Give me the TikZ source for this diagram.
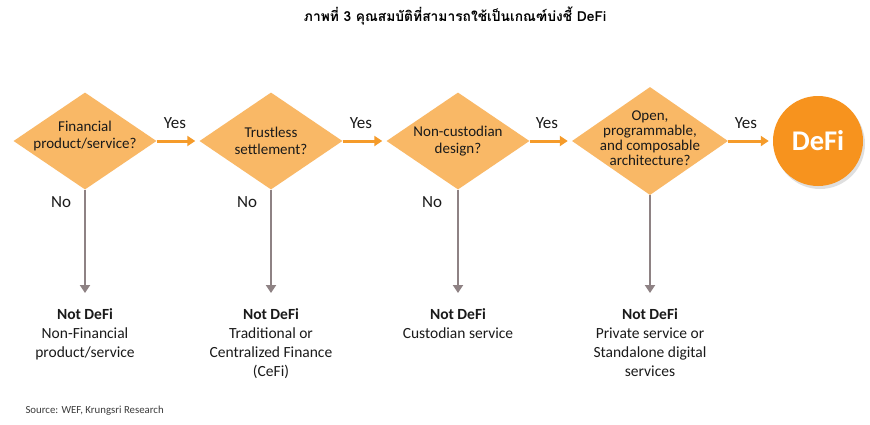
\documentclass[tikz,border=0pt]{standalone}
\usepackage{fontspec}
\setmainfont{Carlito}
\newfontfamily\thaifont[Script=Thai]{Loma}
\usetikzlibrary{shapes.geometric,arrows.meta,shadows}
\definecolor{dfill}{HTML}{F9B866}
\definecolor{orarrow}{HTML}{F59B2A}
\definecolor{defic}{HTML}{F7931E}
\definecolor{grayarr}{HTML}{8E8284}
\definecolor{txt}{HTML}{1A1A1A}
\tikzset{
  dia/.style={diamond,fill=dfill,draw=none,inner sep=0pt,minimum width=143pt,minimum height=97pt},
  qtext/.style={align=center,font=\fontsize{15}{17}\selectfont,text=txt},
  yesarrow/.style={draw=orarrow,line width=3pt,-{Triangle[length=8pt,width=10pt]}},
  noarrow/.style={draw=grayarr,line width=2.6pt,-{Triangle[length=8pt,width=10pt]}},
  lbl/.style={font=\fontsize{17}{18}\selectfont,text=txt},
  result/.style={align=center,anchor=north,font=\fontsize{15.5}{19}\selectfont,text=txt},
}
\begin{document}
\begin{tikzpicture}[x=1pt,y=-1pt]
\useasboundingbox[fill=white] (0,0) rectangle (870,424);
\node[font=\thaifont\bfseries\fontsize{13.8}{15}\selectfont] (title) at (455,16) {ภาพที่ 3 คุณสมบัติที่สามารถใช้เป็นเกณฑ์บ่งชี้ DeFi};

\node[dia] (d1) at (85,141) {};
\node[dia] (d2) at (271,141) {};
\node[dia] (d3) at (458,141) {};
\node[dia,minimum width=156pt,minimum height=108pt] (d4) at (650,141) {};
\node[circle,fill=defic,minimum size=90pt,inner sep=0pt,drop shadow={shadow xshift=2pt,shadow yshift=-3pt,opacity=0.25}] (defi) at (818,141) {};
\node[font=\bfseries\fontsize{28.5}{29}\selectfont,text=white] (defit) at (defi.center) {DeFi};

\node[qtext] (t1) at (85,136) {Financial\\product/service?};
\node[qtext] (t2) at (271,141) {Trustless\\settlement?};
\node[qtext] (t3) at (458,141) {Non-custodian\\design?};
\node[qtext,font=\fontsize{15}{15}\selectfont] (t4) at (650,138) {Open,\\programmable,\\and composable\\architecture?};

\coordinate (e2) at ([xshift=-4pt]d2.west);
\coordinate (e3) at ([xshift=-4pt]d3.west);
\coordinate (e4) at ([xshift=-4pt]d4.west);
\coordinate (e5) at ([xshift=-4pt]defi.west);
\draw[yesarrow] (d1.east) -- (e2);
\draw[yesarrow] (d2.east) -- (e3);
\draw[yesarrow] (d3.east) -- (e4);
\draw[yesarrow] (d4.east) -- (e5);
\node[lbl] (y1) at (175,123) {Yes};
\node[lbl] (y2) at (361,123) {Yes};
\node[lbl] (y3) at (547,123) {Yes};
\node[lbl] (y4) at (746,123) {Yes};

\coordinate (b1) at (85,293);
\coordinate (b2) at (271,293);
\coordinate (b3) at (458,293);
\coordinate (b4) at (650,293);
\draw[noarrow] (d1.south) -- (b1);
\draw[noarrow] (d2.south) -- (b2);
\draw[noarrow] (d3.south) -- (b3);
\draw[noarrow] (d4.south) -- (b4);
\node[lbl] (n1) at (61,202) {No};
\node[lbl] (n2) at (247,202) {No};
\node[lbl] (n3) at (432,202) {No};

\node[result] (r1) at (85,305) {\textbf{Not DeFi}\\Non-Financial\\product/service};
\node[result] (r2) at (271,305) {\textbf{Not DeFi}\\Traditional or\\Centralized Finance\\(CeFi)};
\node[result] (r3) at (458,305) {\textbf{Not DeFi}\\Custodian service};
\node[result] (r4) at (650,305) {\textbf{Not DeFi}\\Private service or\\Standalone digital\\services};

\node[anchor=west,font=\fontsize{10.8}{12}\selectfont,text=txt!85] (src) at (22,411) {Source: WEF, Krungsri Research};
\end{tikzpicture}
\end{document}
